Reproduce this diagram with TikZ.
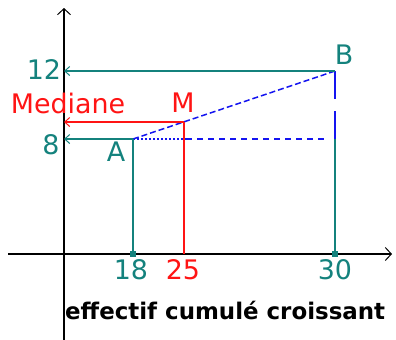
\documentclass[tikz,border=0pt]{standalone}
\usepackage{fontspec}
\setmainfont{DejaVu Sans}
\usetikzlibrary{arrows.meta}
\definecolor{guideteal}{RGB}{20,130,125}
\definecolor{guidered}{RGB}{255,20,20}
\definecolor{guideblue}{RGB}{20,20,240}

\begin{document}
\begin{tikzpicture}[
  x=1bp, y=-1bp,
  axis/.style={-{Straight Barb[length=6bp,width=13bp,line width=1bp]}, line width=1.3bp, draw=black},
  lead/.style={-{Straight Barb[length=5bp,width=9bp,line width=1bp]}, line width=1.4bp},
  drop/.style={line width=1.4bp},
  chord/.style={draw=guideblue, line width=1.5bp, dash pattern=on 6bp off 3bp},
  level/.style={draw=guideblue, line width=1.5bp, dash pattern=on 6bp off 5bp},
  faint/.style={draw=guideblue, line width=1.3bp, dash pattern=on 1.5bp off 2.5bp},
  rise/.style={draw=guideblue, line width=1.5bp, dash pattern=on 28bp off 12bp},
  foot/.style={rectangle, fill=guideteal, inner sep=0pt, minimum size=6bp},
  tag/.style={font=\fontsize{27}{27}\selectfont, inner sep=0pt},
  caption/.style={font=\bfseries\fontsize{23}{23}\selectfont, inner sep=0pt}
]
\useasboundingbox (0,0) rectangle (396,340);

% axes
\coordinate (xstart) at (8,254);
\coordinate (xend) at (392,254);
\coordinate (ystart) at (64,340);
\coordinate (yend) at (64,8);
\draw[axis] (xstart) -- (xend);
\draw[axis] (ystart) -- (yend);

% points of the polygon
\coordinate (A) at (133,139);
\coordinate (M) at (184,122);
\coordinate (B) at (335,71);
\coordinate (yA) at (64,139);
\coordinate (yM) at (64,122);
\coordinate (yB) at (64,71);
\coordinate (xM) at (184,254);
\coordinate (Bl) at (335,139);
\coordinate (Dl) at (186,139);
\coordinate (El) at (329,139);
\node[foot] (xA) at (133,254) {};
\node[foot] (xB) at (335,254) {};

% dashed construction
\draw[chord] (A) -- (B);
\draw[faint] (A) -- (Dl);
\draw[level] (Dl) -- (El);
\draw[rise] (B) -- (Bl);

% reading lines
\draw[lead, draw=guideteal] (B) -- (yB);
\draw[lead, draw=guidered] (M) -- (yM);
\draw[lead, draw=guideteal] (A) -- (yA);
\draw[drop, draw=guideteal] (A) -- (xA.center);
\draw[drop, draw=guidered] (M) -- (xM);
\draw[drop, draw=guideteal] (Bl) -- (xB.center);

% labels
\node[tag, text=guideteal] (l12) at (44,70) {12};
\node[tag, text=guidered] (lmed) at (68,103) {Mediane};
\node[tag, text=guidered] (lM) at (183,103) {M};
\node[tag, text=guideteal] (l8) at (51,145) {8};
\node[tag, text=guideteal] (lA) at (116,152) {A};
\node[tag, text=guideteal] (lB) at (344,55) {B};
\node[tag, text=guideteal] (l18) at (131,270) {18};
\node[tag, text=guidered] (l25) at (183,270) {25};
\node[tag, text=guideteal] (l30) at (335,270) {30};
\node[caption, anchor=west] (cap) at (65,310) {effectif cumulé croissant};

\end{tikzpicture}
\end{document}
